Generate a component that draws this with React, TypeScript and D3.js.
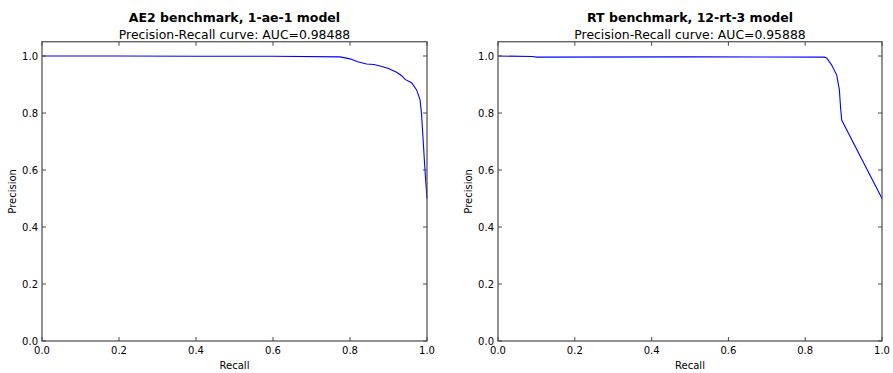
import React, { useEffect, useRef } from 'react';
import * as d3 from 'd3';

// curve points
const aeRecall = [0, 0.2, 0.4, 0.6, 0.774, 0.8, 0.82, 0.843, 0.862, 0.878, 0.9, 0.921, 0.935, 0.943, 0.96, 0.973, 0.982, 0.986, 0.99, 0.995, 1.0];
const aePrecision = [1.0, 1.0, 0.999, 0.999, 0.997, 0.99, 0.98, 0.972, 0.97, 0.965, 0.956, 0.943, 0.93, 0.918, 0.906, 0.881, 0.846, 0.793, 0.705, 0.594, 0.5];

const rtRecall = [0, 0.09, 0.1, 0.5, 0.85, 0.856, 0.869, 0.882, 0.889, 0.892, 0.895, 1.0];
const rtPrecision = [1.0, 0.998, 0.996, 0.997, 0.996, 0.993, 0.968, 0.933, 0.881, 0.822, 0.775, 0.5];

const ticks = [0, 0.2, 0.4, 0.6, 0.8, 1.0];

const titles = ['AE2 benchmark, 1-ae-1 model', 'RT benchmark, 12-rt-3 model'];
const subtitles = ['Precision-Recall curve: AUC=0.98488', 'Precision-Recall curve: AUC=0.95888'];

const FONT = 'DejaVu Sans, sans-serif';
const SPINE = '#4a4a4a';

function drawPanel(svg: any, left: number, right: number, recall: number[], precision: number[], title: string, subtitle: string) {
  var top = 41.75, bottom = 341;
  var x = d3.scaleLinear().domain([0, 1]).range([left, right]);
  var y = d3.scaleLinear().domain([0, 1.05]).range([bottom, top]);
  var g = svg.append('g');
  var cx = (left + right) / 2;

  g.append('text').attr('x', cx).attr('y', 21.5).attr('text-anchor', 'middle')
    .style('font-family', FONT).style('font-size', '12.5px').style('font-weight', 'bold').text(title);
  g.append('text').attr('x', cx).attr('y', 38.5).attr('text-anchor', 'middle')
    .style('font-family', FONT).style('font-size', '12.4px').text(subtitle);

  // curve
  var line = d3.line<number>().x((d, i) => x(recall[i])).y(d => y(d));
  g.append('path').datum(precision).attr('d', line).attr('fill', 'none')
    .attr('stroke', '#0000ff').attr('stroke-width', 1.1);

  // frame
  g.append('rect').attr('x', left).attr('y', top).attr('width', right - left).attr('height', bottom - top)
    .attr('fill', 'none').attr('stroke', SPINE).attr('stroke-width', 1.2);

  // ticks inward on all sides
  ticks.forEach(t => {
    g.append('line').attr('x1', x(t)).attr('x2', x(t)).attr('y1', bottom).attr('y2', bottom - 4).attr('stroke', SPINE);
    g.append('line').attr('x1', x(t)).attr('x2', x(t)).attr('y1', top).attr('y2', top + 4).attr('stroke', SPINE);
    g.append('line').attr('x1', left).attr('x2', left + 4).attr('y1', y(t)).attr('y2', y(t)).attr('stroke', SPINE);
    g.append('line').attr('x1', right).attr('x2', right - 4).attr('y1', y(t)).attr('y2', y(t)).attr('stroke', SPINE);
    g.append('text').attr('x', x(t)).attr('y', 354).attr('text-anchor', 'middle')
      .style('font-family', FONT).style('font-size', '10px').text(d3.format('.1f')(t));
    g.append('text').attr('x', left - 4).attr('y', y(t) + 3.6).attr('text-anchor', 'end')
      .style('font-family', FONT).style('font-size', '10px').text(d3.format('.1f')(t));
  });

  g.append('text').attr('x', cx).attr('y', 369).attr('text-anchor', 'middle')
    .style('font-family', FONT).style('font-size', '10px').text('Recall');
  g.append('text').attr('transform', 'translate(' + (left - 26) + ',' + ((top + bottom) / 2) + ') rotate(-90)')
    .attr('text-anchor', 'middle').style('font-family', FONT).style('font-size', '10px').text('Precision');
}

export default function App() {
  const ref = useRef<SVGSVGElement>(null);

  useEffect(() => {
    var svg = d3.select(ref.current);
    svg.selectAll('*').remove();
    drawPanel(svg, 42, 427, aeRecall, aePrecision, titles[0], subtitles[0]);
    drawPanel(svg, 498, 882, rtRecall, rtPrecision, titles[1], subtitles[1]);
  }, []);

  return (
    <div style={{ position: 'absolute', left: 0, top: 0 }}>
      <svg ref={ref} width={893} height={373} style={{ display: 'block', background: '#fff' }} />
    </div>
  );
}
